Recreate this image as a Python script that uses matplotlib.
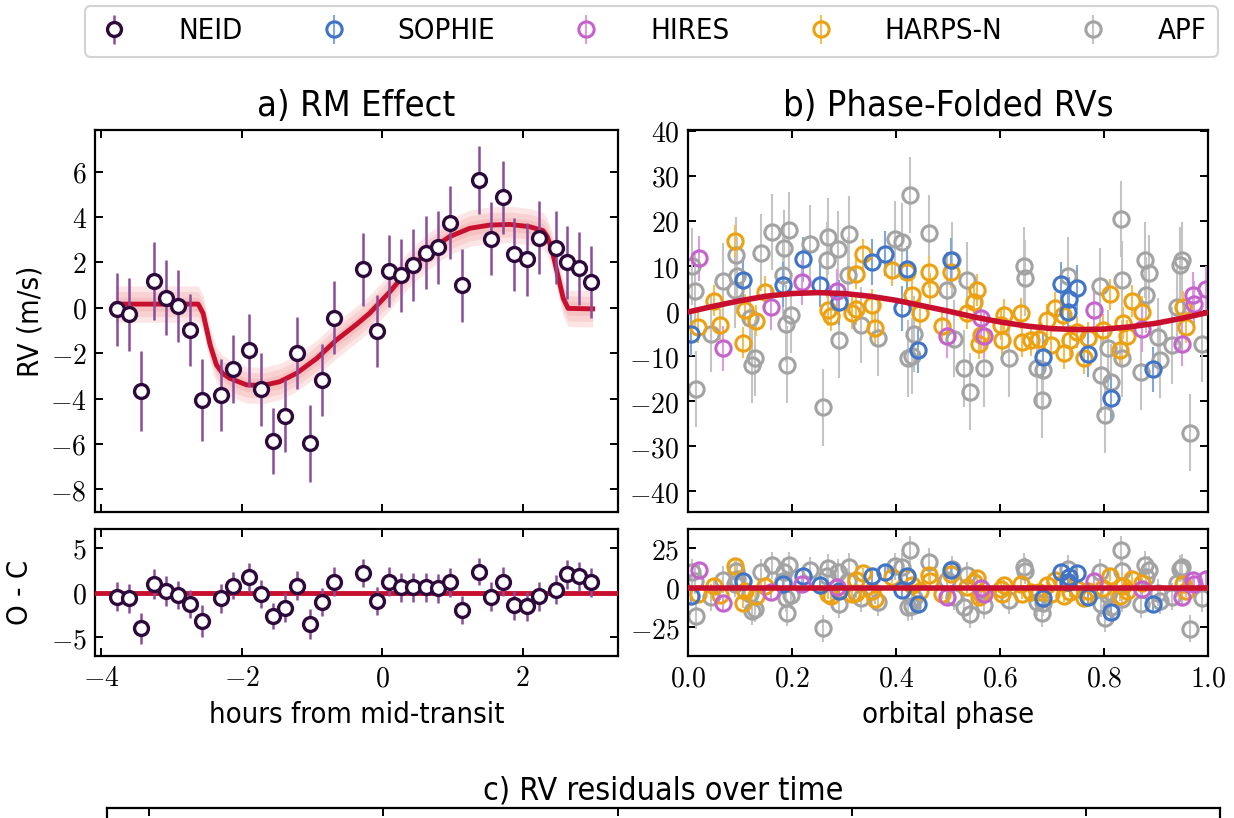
import numpy as np
import matplotlib
matplotlib.use("Agg")
import matplotlib.pyplot as plt
from matplotlib.ticker import FuncFormatter, MultipleLocator

# ---------------- a) RM effect (NEID) ----------------
neid_hours = [-3.78, -3.60, -3.43, -3.25, -3.08, -2.91, -2.74, -2.56, -2.29, -2.12,
              -1.90, -1.73, -1.56, -1.39, -1.21, -1.03, -0.86, -0.68, -0.27, -0.07,
              0.10, 0.27, 0.44, 0.62, 0.79, 0.96, 1.14, 1.38, 1.55, 1.72,
              1.88, 2.06, 2.23, 2.47, 2.64, 2.81, 2.98]
neid_rv = [-0.07, -0.29, -3.67, 1.18, 0.44, 0.07, -0.98, -4.08, -3.85, -2.69,
           -1.88, -3.60, -5.87, -4.76, -2.00, -5.98, -3.19, -0.44, 1.69, -1.03,
           1.62, 1.43, 1.88, 2.42, 2.66, 3.75, 0.99, 5.61, 3.04, 4.86,
           2.35, 2.13, 3.08, 2.64, 2.00, 1.74, 1.13]
neid_err = [1.6, 1.6, 1.75, 1.7, 1.65, 1.6, 1.6, 1.8, 1.6, 1.5,
            1.6, 1.6, 1.45, 1.6, 1.6, 1.7, 1.6, 1.6, 1.6, 1.6,
            1.6, 1.6, 1.6, 1.6, 1.6, 1.6, 1.6, 1.5, 1.6, 1.6,
            1.6, 1.6, 1.6, 1.6, 1.6, 1.6, 1.6]
neid_resid = [-0.48, -0.67, -4.0, 0.93, 0.19, -0.26, -1.3, -3.2, -0.67, 0.78,
              1.7, -0.15, -2.6, -1.7, 0.78, -3.55, -1.07, 1.22, 2.19, -0.93,
              1.22, 0.56, 0.56, 0.56, 0.48, 1.15, -1.96, 2.33, -0.48, 1.22,
              -1.44, -1.56, -0.44, 0.33, 2.04, 1.81, 1.15]

rm_hours = [-3.80, -2.62, -2.55, -2.45, -2.36, -2.27, -2.17, -1.93, -1.70, -1.46,
            -1.22, -0.93, -0.65, -0.36, -0.18, 0.11, 0.39, 0.68, 0.96, 1.25,
            1.53, 1.82, 2.10, 2.29, 2.35, 2.42, 2.48, 2.58, 2.65, 3.00]
rm_model = [0.16, 0.16, -0.25, -1.64, -2.52, -2.90, -3.11, -3.40, -3.43, -3.26,
            -2.89, -2.23, -1.42, -0.72, -0.25, 0.70, 1.73, 2.54, 3.13, 3.50,
            3.64, 3.67, 3.57, 3.40, 3.15, 2.55, 1.73, 0.41, -0.03, -0.05]
rm_band = [0.3, 0.55, 0.8]

# ---------------- b) phase-folded RVs ----------------
apf_phase = [0.008, 0.014, 0.016, 0.045, 0.068, 0.090, 0.092, 0.094, 0.120, 0.124,
             0.128, 0.141, 0.161, 0.182, 0.185, 0.188, 0.190, 0.195, 0.198, 0.234,
             0.259, 0.267, 0.269, 0.288, 0.290, 0.307, 0.309, 0.332, 0.366, 0.398,
             0.411, 0.424, 0.427, 0.430, 0.434, 0.464, 0.498, 0.508, 0.511, 0.530,
             0.537, 0.543, 0.569, 0.617, 0.646, 0.648, 0.672, 0.680, 0.682, 0.731,
             0.792, 0.795, 0.801, 0.807, 0.814, 0.832, 0.834, 0.835, 0.872, 0.878,
             0.880, 0.886, 0.904, 0.907, 0.930, 0.940, 0.947, 0.950, 0.966, 0.988]
apf_rv = [9.9, 4.5, -17.3, -5.0, 6.7, 4.7, 12.4, 7.9, -1.5, -11.9,
          -10.4, 13.0, 17.6, 8.0, 13.9, -2.8, -11.9, 18.0, -0.8, 15.0,
          -21.4, 11.3, 16.5, 13.8, -6.4, 8.0, 17.1, -3.1, -6.0, 15.9,
          15.4, -10.5, 25.8, -10.0, -5.1, 17.3, 4.7, 11.3, -6.1, -12.7,
          6.9, -17.9, -12.7, -10.5, 10.1, 7.3, -12.7, -19.7, -13.1, 7.9,
          5.6, -14.1, -23.1, -8.3, -15.7, 20.4, 7.0, -10.5, -13.5, 11.3,
          3.6, 8.4, -5.7, -10.9, -7.6, 1.0, 10.2, 11.3, -27.0, -7.2]
apf_err = 8.5

harpsn_phase = [0.020, 0.050, 0.061, 0.091, 0.106, 0.109, 0.130, 0.148, 0.269, 0.275,
                0.315, 0.323, 0.324, 0.336, 0.353, 0.359, 0.392, 0.421, 0.431, 0.447,
                0.463, 0.465, 0.489, 0.505, 0.537, 0.550, 0.556, 0.560, 0.563, 0.601,
                0.604, 0.608, 0.640, 0.642, 0.659, 0.675, 0.690, 0.698, 0.705, 0.721,
                0.723, 0.735, 0.749, 0.762, 0.770, 0.798, 0.811, 0.830, 0.837, 0.845,
                0.853, 0.874, 0.951, 0.958]
harpsn_rv = [-3.5, 2.3, -3.0, 15.6, -7.0, 0.2, -2.1, 4.2, 0.2, -1.0,
             -0.4, 8.3, 0.4, 12.6, 1.3, -3.7, 9.1, 8.7, 3.5, -0.5,
             8.7, 5.0, -3.4, 8.7, -0.5, 2.0, 4.7, -7.2, -5.3, -3.0,
             -6.4, -0.9, -0.5, -6.8, -6.4, -6.1, -2.0, -7.6, 0.7, -0.9,
             -9.4, -6.5, -4.6, -10.5, -6.0, -4.2, 3.7, -8.6, -2.7, -5.5,
             2.2, -0.2, 1.0, -3.5]
harpsn_err = 3.5

sophie_phase = [0.006, 0.106, 0.182, 0.222, 0.254, 0.290, 0.353, 0.379, 0.411, 0.421,
                0.443, 0.505, 0.683, 0.718, 0.730, 0.733, 0.748, 0.770, 0.814, 0.894]
sophie_rv = [-5.0, 6.9, 5.9, 11.5, 5.9, 2.0, 10.9, 12.7, 0.6, 9.4,
             -8.7, 11.3, -10.1, 6.0, -0.3, 2.6, 5.2, -9.6, -19.2, -12.9]
sophie_err = 5.0

hires_phase = [0.022, 0.067, 0.159, 0.219, 0.287, 0.498, 0.563, 0.569, 0.780, 0.873,
               0.950, 0.972, 0.974, 0.997]
hires_rv = [11.7, -8.2, 0.9, 6.4, 4.4, -5.5, -1.5, -5.5, 0.2, -4.0,
            -7.3, 3.6, 1.6, 4.9]
hires_err = 5.0

orbit_phase = [0.0, 0.05, 0.1, 0.15, 0.2, 0.25, 0.3, 0.35, 0.4, 0.45, 0.5,
               0.55, 0.6, 0.65, 0.7, 0.75, 0.8, 0.85, 0.9, 0.95, 1.0]
orbit_rv = [-0.2, 1.1, 2.3, 3.3, 3.9, 4.1, 3.9, 3.3, 2.4, 1.2, 0.0,
            -1.3, -2.4, -3.3, -3.9, -4.1, -4.0, -3.5, -2.7, -1.6, -0.3]

# ---------------- c) residuals over time (only top edge visible) ----------------
time_ticks = [2019, 2020, 2021, 2022, 2023]

RED = '#c8102e'
NEID_C = '#2e0a3c'
NEID_E = '#8a4c9c'
inst = [  # label, phase, rv, err, marker colour, bar colour
    ('APF', apf_phase, apf_rv, apf_err, '#a3a3a3', '#c4c4c4'),
    ('HARPS-N', harpsn_phase, harpsn_rv, harpsn_err, '#eca112', '#f3bf55'),
    ('SOPHIE', sophie_phase, sophie_rv, sophie_err, '#3f74c6', '#80a6de'),
    ('HIRES', hires_phase, hires_rv, hires_err, '#c563cc', '#dc9ce0'),
]

plt.rcParams['font.family'] = ['DejaVu Sans']
plt.rcParams['font.stretch'] = 'condensed'
plt.rcParams['mathtext.fontset'] = 'cm'
plt.rcParams['axes.linewidth'] = 1.6

texfmt = FuncFormatter(lambda v, p: r'$%g$' % v)


def style(ax):
  ax.tick_params(direction='in', top=True, right=True, length=6, width=1.4,
                 labelsize=20, pad=6)
  ax.xaxis.set_major_formatter(texfmt)
  ax.yaxis.set_major_formatter(texfmt)


fig = plt.figure(figsize=(12.34, 8.18), dpi=100)
W, H = 1234.0, 818.0


def box(l, t, r, b):
  return [l / W, 1 - b / H, (r - l) / W, (b - t) / H]


ax_a = fig.add_axes(box(95, 130, 618, 512))
ax_ar = fig.add_axes(box(95, 529, 618, 656), sharex=ax_a)
ax_b = fig.add_axes(box(688, 130, 1208, 512))
ax_br = fig.add_axes(box(688, 529, 1208, 656), sharex=ax_b)
ax_c = fig.add_axes(box(107, 808, 1220, 1000))

# panel a
for w in rm_band:
  ax_a.fill_between(rm_hours, np.array(rm_model) - w, np.array(rm_model) + w,
                    color='#f08a8a', alpha=0.22, lw=0)
ax_a.plot(rm_hours, rm_model, color=RED, lw=3.5, zorder=3)
neid_h = ax_a.errorbar(neid_hours, neid_rv, yerr=neid_err, fmt='o', ms=10, mfc='white',
                       mec=NEID_C, mew=2.4, ecolor=NEID_E, elinewidth=1.8, zorder=5,
                       label='NEID')
ax_a.set_xlim(-4.09, 3.36)
ax_a.set_ylim(-9.0, 7.83)
ax_a.yaxis.set_major_locator(MultipleLocator(2))
ax_a.xaxis.set_major_locator(MultipleLocator(2))
style(ax_a)
ax_a.tick_params(labelbottom=False)
ax_a.set_ylabel('RV (m/s)', fontsize=21, labelpad=4)
ax_a.set_title('a) RM Effect', fontsize=26, pad=10)

ax_ar.axhline(0, color=RED, lw=3.5, zorder=3)
ax_ar.errorbar(neid_hours, neid_resid, yerr=neid_err, fmt='o', ms=10, mfc='white',
               mec=NEID_C, mew=2.4, ecolor=NEID_E, elinewidth=1.8, zorder=5)
ax_ar.set_ylim(-7.1, 7.1)
ax_ar.yaxis.set_major_locator(MultipleLocator(5))
style(ax_ar)
ax_ar.set_ylabel('O - C', fontsize=21, labelpad=12)
ax_ar.set_xlabel('hours from mid-transit', fontsize=21, labelpad=6)

# panel b
handles = {'NEID': neid_h}
for name, ph, rv, err, mc, ec in inst:
  h = ax_b.errorbar(ph, rv, yerr=err, fmt='o', ms=11, mfc='none', mec=mc, mew=2.2,
                    ecolor=ec, elinewidth=1.5, label=name, zorder=2)
  handles[name] = h
  resid = np.array(rv) - np.interp(ph, orbit_phase, orbit_rv)
  ax_br.errorbar(ph, resid, yerr=err, fmt='o', ms=11, mfc='none', mec=mc, mew=2.2,
                 ecolor=ec, elinewidth=1.5, zorder=2)
ax_b.plot(orbit_phase, orbit_rv, color=RED, lw=4, zorder=6)
ax_b.set_xlim(0, 1)
ax_b.set_ylim(-44.6, 40.2)
ax_b.yaxis.set_major_locator(MultipleLocator(10))
ax_b.xaxis.set_major_locator(MultipleLocator(0.2))
style(ax_b)
ax_b.tick_params(labelbottom=False)
ax_b.set_title('b) Phase-Folded RVs', fontsize=26, pad=10)

ax_br.axhline(0, color=RED, lw=4, zorder=6)
ax_br.set_ylim(-43, 37)
ax_br.yaxis.set_major_locator(MultipleLocator(25))
style(ax_br)
ax_br.xaxis.set_major_formatter(FuncFormatter(lambda v, p: r'$%.1f$' % v))
ax_br.set_xlabel('orbital phase', fontsize=21, labelpad=6)

# panel c (cut off by the figure edge)
ax_c.set_xlim(2018.82, 2023.57)
ax_c.set_xticks(time_ticks)
ax_c.set_ylim(-40, 40)
style(ax_c)
ax_c.tick_params(labelbottom=False, labelleft=False)
ax_c.set_title('c) RV residuals over time', fontsize=23, pad=6)

order = ['NEID', 'SOPHIE', 'HIRES', 'HARPS-N', 'APF']
leg = fig.legend([handles[k] for k in order], order, loc='lower left',
                 bbox_to_anchor=(85 / W, 1 - 57 / H, (1218 - 85) / W, 49 / H),
                 mode='expand', ncol=5, fontsize=21, handlelength=1.2,
                 handletextpad=1.6, borderaxespad=0, frameon=True, fancybox=True)
leg.get_frame().set_edgecolor('#c8c8c8')
leg.get_frame().set_linewidth(1.5)

fig.savefig('out.png', dpi=100)
